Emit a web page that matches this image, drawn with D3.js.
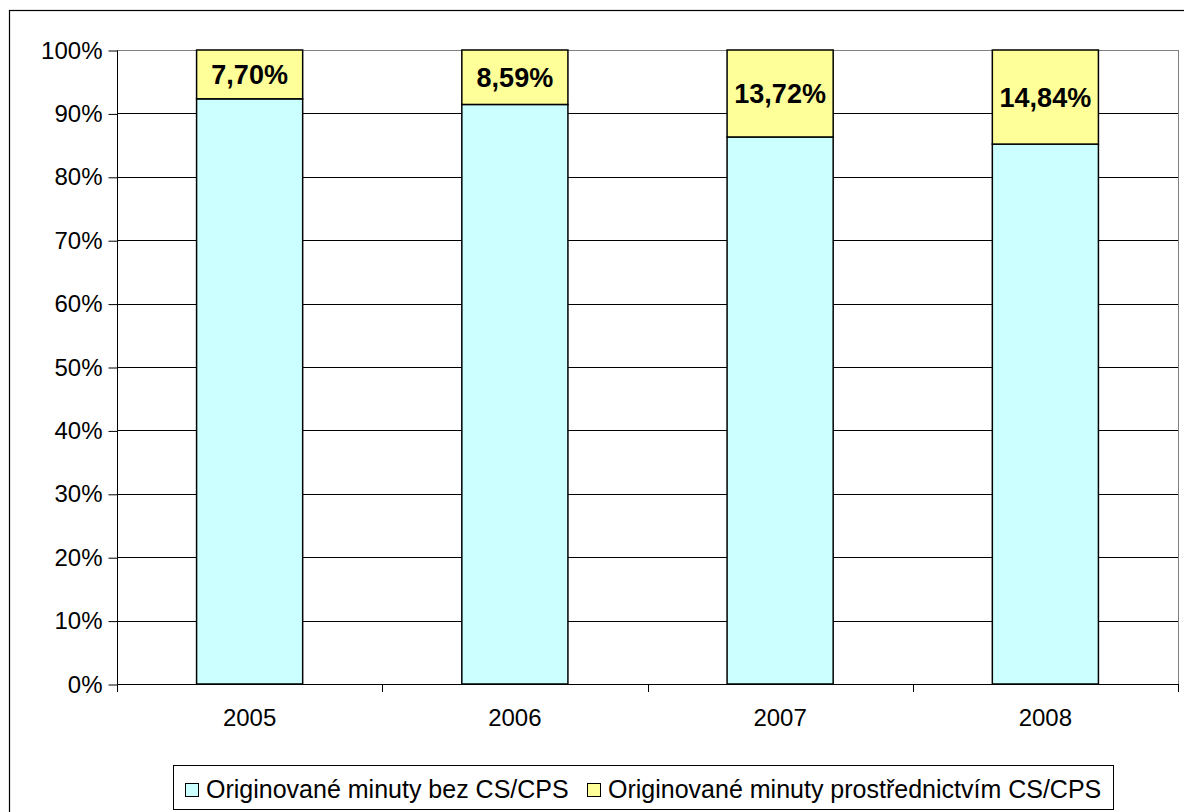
<!DOCTYPE html>
<html>
<head>
<meta charset="utf-8">
<script src="https://d3js.org/d3.v7.min.js"></script>
<style>
  body { margin: 0; background: #fff; }
  text { font-family: "Liberation Sans", Arial, sans-serif; }
</style>
</head>
<body>
<script>
// data
var years = ["2005", "2006", "2007", "2008"];
var share_cps = [7.70, 8.59, 13.72, 14.84];
var share_rest = [92.30, 91.41, 86.28, 85.16];
var label_cps = ["7,70%", "8,59%", "13,72%", "14,84%"];
var y_ticks = [0, 10, 20, 30, 40, 50, 60, 70, 80, 90, 100];
var series_names = ["Originované minuty bez CS/CPS", "Originované minuty prostřednictvím CS/CPS"];
var series_colors = ["#CCFFFF", "#FFFF99"];

var width = 1184, height = 812;
var plot_left = 117, plot_right = 1178, plot_top = 50, plot_bottom = 684;

var svg = d3.select("body").append("svg")
  .attr("width", width)
  .attr("height", height);

// outer chart border
svg.append("rect")
  .attr("x", 9.5).attr("y", 10.5)
  .attr("width", 1200).attr("height", 820)
  .attr("fill", "#fff").attr("stroke", "#000").attr("stroke-width", 1.2);

var x = d3.scaleBand().domain(years).range([plot_left, plot_right]).paddingInner(0.6).paddingOuter(0.3);
var xb = d3.scaleBand().domain(years).range([plot_left, plot_right]);
var y = d3.scaleLinear().domain([0, 100]).range([plot_bottom, plot_top]);

// gridlines
svg.append("g").selectAll("line")
  .data(y_ticks.filter(function (d) { return d > 0; }))
  .enter().append("line")
  .attr("x1", plot_left).attr("x2", plot_right)
  .attr("y1", function (d) { return Math.round(y(d)) + 0.5; })
  .attr("y2", function (d) { return Math.round(y(d)) + 0.5; })
  .attr("stroke", function (d) { return d == 100 ? "#808080" : "#000"; })
  .attr("stroke-width", 1);

// right border of plot area
svg.append("line")
  .attr("x1", plot_right + 0.5).attr("x2", plot_right + 0.5)
  .attr("y1", plot_top).attr("y2", plot_bottom)
  .attr("stroke", "#808080");

// y axis
var yAxis = d3.axisLeft(y).tickValues(y_ticks).tickSize(9).tickPadding(6)
  .tickFormat(function (d) { return d + "%"; });
var gy = svg.append("g").attr("transform", "translate(" + (plot_left + 0.5) + ",0.5)").call(yAxis);
gy.selectAll("text").style("font-size", "24px").style("font-family", "Liberation Sans, Arial, sans-serif").attr("fill", "#000");
gy.selectAll("line, path").attr("stroke", "#000");
gy.select(".domain").attr("d", "M0," + plot_top + "V" + plot_bottom);

// x axis with ticks at category boundaries
svg.append("line")
  .attr("x1", plot_left).attr("x2", plot_right + 1)
  .attr("y1", plot_bottom + 0.5).attr("y2", plot_bottom + 0.5)
  .attr("stroke", "#000");
var bounds = years.map(function (d) { return xb(d); }).concat([plot_right]);
svg.append("g").selectAll("line").data(bounds).enter().append("line")
  .attr("x1", function (d) { return Math.round(d) + 0.5; })
  .attr("x2", function (d) { return Math.round(d) + 0.5; })
  .attr("y1", plot_bottom).attr("y2", plot_bottom + 8)
  .attr("stroke", "#000");
svg.append("g").selectAll("text").data(years).enter().append("text")
  .attr("x", function (d) { return x(d) + x.bandwidth() / 2; })
  .attr("y", 726)
  .attr("text-anchor", "middle")
  .style("font-size", "24px")
  .text(function (d) { return d; });

// bars
var bars = svg.append("g");
bars.selectAll("rect.rest").data(years).enter().append("rect")
  .attr("class", "rest")
  .attr("x", function (d) { return x(d); })
  .attr("width", x.bandwidth())
  .attr("y", function (d, i) { return y(share_rest[i]); })
  .attr("height", function (d, i) { return y(0) - y(share_rest[i]); })
  .attr("fill", series_colors[0]).attr("stroke", "#000").attr("stroke-width", 1.5);
bars.selectAll("rect.cps").data(years).enter().append("rect")
  .attr("class", "cps")
  .attr("x", function (d) { return x(d); })
  .attr("width", x.bandwidth())
  .attr("y", function (d, i) { return y(share_rest[i] + share_cps[i]); })
  .attr("height", function (d, i) { return y(share_rest[i]) - y(share_rest[i] + share_cps[i]); })
  .attr("fill", series_colors[1]).attr("stroke", "#000").attr("stroke-width", 1.5);

// value labels
svg.append("g").selectAll("text").data(years).enter().append("text")
  .attr("x", function (d) { return x(d) + x.bandwidth() / 2; })
  .attr("y", function (d, i) { return (y(100) + y(share_rest[i])) / 2; })
  .attr("dy", "0.36em")
  .attr("text-anchor", "middle")
  .style("font-size", "27px").style("font-weight", "bold")
  .text(function (d, i) { return label_cps[i]; });

// legend
var lg = svg.append("g");
lg.append("rect")
  .attr("x", 173.5).attr("y", 765.5).attr("width", 940).attr("height", 44)
  .attr("fill", "#fff").attr("stroke", "#000").attr("stroke-width", 1);
var legend_x = [185, 587];
series_names.forEach(function (name, i) {
  lg.append("rect")
    .attr("x", legend_x[i] + 0.5).attr("y", 783.5).attr("width", 13).attr("height", 13)
    .attr("fill", series_colors[i]).attr("stroke", "#000").attr("stroke-width", 1);
  lg.append("text")
    .attr("x", legend_x[i] + 21).attr("y", 798)
    .style("font-size", "25px")
    .text(name);
});
</script>
</body>
</html>
